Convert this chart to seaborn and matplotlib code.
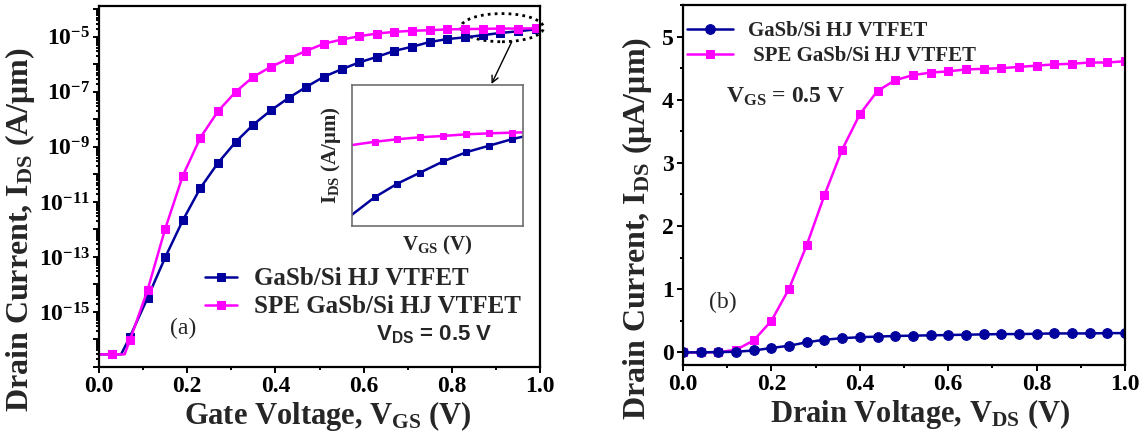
import numpy as np
import matplotlib
matplotlib.use("Agg")
import matplotlib.pyplot as plt
import seaborn as sns
from matplotlib.patches import Ellipse
from matplotlib.ticker import FixedLocator, LogLocator, MultipleLocator, NullFormatter

sns.set_theme(style="ticks")
plt.rcParams["font.family"] = ["Liberation Serif", "DejaVu Serif"]
plt.rcParams["font.weight"] = "bold"
plt.rcParams["mathtext.default"] = "regular"

NAVY = "#00009C"
MAGENTA = "#FF00FF"

# ---- (a) transfer characteristics at V_DS = 0.5 V (log10 of I_DS in A/um) ----
vgs_hj = [0.0, 0.03, 0.05, 0.07, 0.11, 0.15, 0.19, 0.23, 0.27, 0.31, 0.35, 0.39,
          0.43, 0.47, 0.51, 0.55, 0.59, 0.63, 0.67, 0.71, 0.75, 0.79, 0.83, 0.87,
          0.91, 0.95, 0.99]
log_ids_hj = [-16.54, -16.54, -16.54, -15.91, -14.49, -13.02, -11.67, -10.49, -9.58,
              -8.82, -8.19, -7.67, -7.22, -6.82, -6.45, -6.18, -5.93, -5.73, -5.51,
              -5.36, -5.19, -5.08, -5.02, -4.94, -4.86, -4.80, -4.73]
vgs_spe = [0.0, 0.03, 0.058, 0.07, 0.11, 0.15, 0.19, 0.23, 0.27, 0.31, 0.35, 0.39,
           0.43, 0.47, 0.51, 0.55, 0.59, 0.63, 0.67, 0.71, 0.75, 0.79, 0.83, 0.87,
           0.91, 0.95, 0.99]
log_ids_spe = [-16.54, -16.54, -16.54, -16.03, -14.21, -11.98, -10.05, -8.66, -7.70,
               -7.00, -6.45, -6.09, -5.79, -5.51, -5.25, -5.10, -4.98, -4.88, -4.82,
               -4.78, -4.76, -4.73, -4.72, -4.71, -4.70, -4.70, -4.69]
marked_hj = [1] + list(range(3, len(vgs_hj)))
marked_spe = [1] + list(range(3, len(vgs_spe)))

# inset: close-up of the high-V_GS end on a linear current scale (A/um)
vgs_zoom = [0.85, 0.87, 0.89, 0.91, 0.93, 0.95, 0.97, 0.99, 1.00]
ids_zoom_hj = [0.78e-5, 1.05e-5, 1.26e-5, 1.43e-5, 1.60e-5, 1.74e-5, 1.84e-5, 1.94e-5, 1.98e-5]
ids_zoom_spe = [1.85e-5, 1.90e-5, 1.94e-5, 1.97e-5, 1.99e-5, 2.015e-5, 2.03e-5, 2.04e-5, 2.045e-5]

# ---- (b) output characteristics at V_GS = 0.5 V (uA/um) ----
vds = [0.00, 0.04, 0.08, 0.12, 0.16, 0.20, 0.24, 0.28, 0.32, 0.36, 0.40, 0.44, 0.48,
       0.52, 0.56, 0.60, 0.64, 0.68, 0.72, 0.76, 0.80, 0.84, 0.88, 0.92, 0.96, 1.00]
ids_out_hj = [0.0, 0.0, 0.005, 0.01, 0.03, 0.07, 0.105, 0.16, 0.20, 0.225, 0.24, 0.25,
              0.26, 0.265, 0.27, 0.275, 0.28, 0.285, 0.29, 0.29, 0.295, 0.30, 0.30,
              0.30, 0.305, 0.305]
ids_out_spe = [0.0, 0.0, 0.005, 0.04, 0.19, 0.50, 1.01, 1.70, 2.49, 3.21, 3.77, 4.14,
               4.31, 4.39, 4.43, 4.45, 4.48, 4.49, 4.50, 4.52, 4.54, 4.56, 4.57, 4.59,
               4.59, 4.61]

label_hj = "GaSb/Si HJ VTFET"
label_spe = "SPE GaSb/Si HJ VTFET"

fig = plt.figure(figsize=(11.46, 4.41), dpi=100)
ax1 = fig.add_axes([0.0864, 0.1678, 0.3848, 0.8186])
ax2 = fig.add_axes([0.5960, 0.1723, 0.3857, 0.8163])

TICK_FS = 17
LABEL_FS = 22
LEG_FS = 18


def style_axes(ax):
    for sp in ax.spines.values():
        sp.set_linewidth(1.6)
        sp.set_color("black")
    ax.tick_params(which="both", direction="out", width=1.4, colors="black",
                   top=False, right=False, labelsize=TICK_FS, pad=2)
    ax.tick_params(which="major", length=4.5)
    ax.tick_params(which="minor", length=2.5)
    for t in ax.get_xticklabels() + ax.get_yticklabels():
        t.set_fontweight("bold")


# ---------------- panel (a) ----------------
ax1.set_yscale("log")
sns.lineplot(x=vgs_hj, y=10.0 ** np.array(log_ids_hj), ax=ax1, color=NAVY, lw=1.8,
             marker="s", ms=5.5, markeredgecolor=NAVY, markevery=marked_hj,
             label=label_hj, sort=False)
sns.lineplot(x=vgs_spe, y=10.0 ** np.array(log_ids_spe), ax=ax1, color=MAGENTA, lw=1.8,
             marker="s", ms=5.5, markeredgecolor=MAGENTA, markevery=marked_spe,
             label=label_spe, sort=False)
ax1.set_xlim(0, 1.0)
ax1.set_ylim(1e-17, 10 ** -3.88)
decades = list(range(-17, -3))
ax1.yaxis.set_major_locator(FixedLocator([10.0 ** d for d in decades]))
ax1.set_yticklabels([rf"$10^{{{d}}}$" if (d % 2 and -15 <= d <= -5) else "" for d in decades])
ax1.yaxis.set_minor_locator(LogLocator(base=10, subs=np.arange(2, 10), numticks=30))
ax1.yaxis.set_minor_formatter(NullFormatter())
ax1.set_xticks(np.arange(0, 1.01, 0.2))
ax1.set_xticklabels([f"{v:.1f}" for v in np.arange(0, 1.01, 0.2)])
ax1.xaxis.set_minor_locator(MultipleLocator(0.1))
style_axes(ax1)
ax1.set_xlabel(r"Gate Voltage, V$_{GS}$ (V)", fontsize=LABEL_FS, fontweight="bold")
ax1.set_ylabel(r"Drain Current, I$_{DS}$ (A/μm)", fontsize=LABEL_FS + 1, fontweight="bold")
ax1.xaxis.set_label_coords(0.519, -0.09)
ax1.yaxis.set_label_coords(-0.14, 0.38)
ax1.legend(loc="center left", bbox_to_anchor=(0.24, 0.205), frameon=False,
           prop={"family": "Liberation Serif", "weight": "bold", "size": LEG_FS},
           handlelength=1.3, handletextpad=0.65, labelspacing=0.2, borderpad=0,
           borderaxespad=0)
ax1.text(0.19, 0.108, "(a)", transform=ax1.transAxes, fontsize=17, fontweight="normal",
         ha="center", va="center")
ax1.text(0.76, 0.09, r"V$_{DS}$ = 0.5 V", transform=ax1.transAxes, fontsize=16,
         fontweight="bold", family="Liberation Sans", ha="center", va="center")

# dotted ellipse around the saturated region and arrow to the inset
ax1.add_patch(Ellipse((0.914, 0.940), 0.188, 0.078, transform=ax1.transAxes, fill=False,
                      ls=(0, (1, 1.5)), lw=2.0, ec="black", clip_on=False))
ax1.annotate("", xy=(0.890, 0.784), xytext=(0.936, 0.901), xycoords="axes fraction",
             textcoords="axes fraction",
             arrowprops=dict(arrowstyle="->", color="black", lw=1.0, shrinkA=0, shrinkB=0))

# inset
axin = fig.add_axes([0.3069, 0.4882, 0.1497, 0.3190])
sns.lineplot(x=vgs_zoom, y=ids_zoom_hj, ax=axin, color=NAVY, lw=1.8, marker="s", ms=4.5,
             markeredgecolor=NAVY, markevery=slice(1, -1), sort=False)
sns.lineplot(x=vgs_zoom, y=ids_zoom_spe, ax=axin, color=MAGENTA, lw=1.8, marker="s", ms=4.5,
             markeredgecolor=MAGENTA, markevery=slice(1, -1), sort=False)
axin.set_xlim(0.85, 1.0)
axin.set_ylim(0.615e-5, 2.77e-5)
axin.set_xticks([])
axin.set_yticks([])
for sp in axin.spines.values():
    sp.set_color("#6E6E6E")
    sp.set_linewidth(1.2)
axin.set_xlabel(r"V$_{GS}$ (V)", fontsize=15, fontweight="bold", labelpad=6)
axin.set_ylabel(r"I$_{DS}$ (A/μm)", fontsize=15, fontweight="bold", labelpad=6)

# ---------------- panel (b) ----------------
sns.lineplot(x=vds, y=ids_out_spe, ax=ax2, color=MAGENTA, lw=1.8, marker="s", ms=5.5,
             markeredgecolor=MAGENTA, label=" " + label_spe, sort=False)
sns.lineplot(x=vds, y=ids_out_hj, ax=ax2, color=NAVY, lw=1.8, marker="o", ms=7,
             markeredgecolor=NAVY, label=label_hj, sort=False)
ax2.set_xlim(0, 1.0)
ax2.set_ylim(-0.2, 5.5)
ax2.set_xticks(np.arange(0, 1.01, 0.2))
ax2.set_xticklabels([f"{v:.1f}" for v in np.arange(0, 1.01, 0.2)])
ax2.xaxis.set_minor_locator(MultipleLocator(0.1))
ax2.set_yticks(range(0, 6))
ax2.yaxis.set_minor_locator(MultipleLocator(0.5))
style_axes(ax2)
ax2.set_xlabel(r"Drain Voltage, V$_{DS}$ (V)", fontsize=LABEL_FS, fontweight="bold")
ax2.set_ylabel(r"Drain Current, I$_{DS}$ (μA/μm)", fontsize=LABEL_FS + 1, fontweight="bold")
ax2.xaxis.set_label_coords(0.536, -0.09)
ax2.yaxis.set_label_coords(-0.066, 0.38)
handles, labels = ax2.get_legend_handles_labels()
ax2.legend(handles[::-1], labels[::-1], loc="upper left", bbox_to_anchor=(0.01, 0.955),
           frameon=False, prop={"family": "Liberation Serif", "weight": "bold", "size": 15},
           handlelength=2.2, handletextpad=0.7, labelspacing=0.25, borderpad=0,
           borderaxespad=0)
ax2.text(0.098, 0.744, r"V$_{GS}$ = 0.5 V", transform=ax2.transAxes, fontsize=17,
         fontweight="bold", ha="left", va="center")
ax2.text(0.09, 0.175, "(b)", transform=ax2.transAxes, fontsize=17, fontweight="normal",
         ha="center", va="center")

fig.savefig("out.png", dpi=100)
